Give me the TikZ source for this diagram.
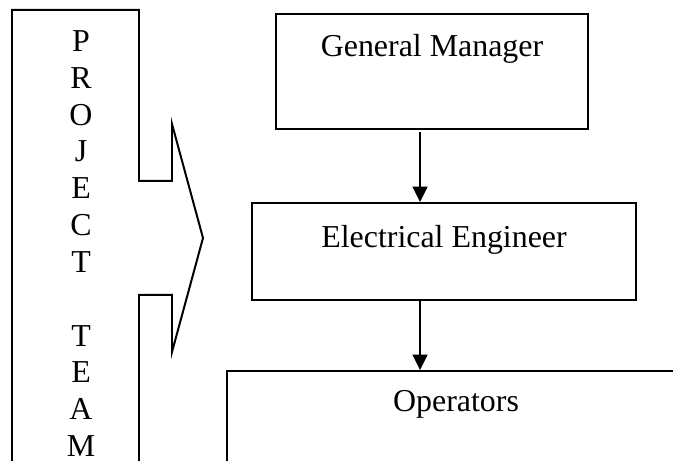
\documentclass[tikz,border=0pt]{standalone}
\usepackage{fontspec}
\setmainfont{Liberation Serif}
\usetikzlibrary{arrows.meta}
\begin{document}
\begin{tikzpicture}[x=0.376pt,y=-0.376pt,line width=0.75pt,
    font=\fontsize{12}{13.85}\selectfont]
        \useasboundingbox (0,0) rectangle (673,461);
        % project team arrow
        \draw (12,480) -- (12,10) -- (139,10) -- (139,181) -- (172,181) -- (172,124)
          -- (203,238) -- (172,352) -- (172,295) -- (139,295) -- (139,480);
        \node[align=center,inner sep=0pt,anchor=north] (team) at (81,29.5)
          {P\\R\\O\\J\\E\\C\\T\\\mbox{}\\T\\E\\A\\M};
        \begin{scope}[every node/.style={draw,inner ysep=0pt,anchor=north}]
          \node[minimum width=117.3pt,text height=16pt,text depth=27.3pt]   (gm) at (432,13)  {General Manager};
          \node[minimum width=144.4pt,text height=16.7pt,text depth=19.7pt] (ee) at (444,202) {Electrical Engineer};
          \node[minimum width=172.2pt,text height=15.2pt,text depth=40pt]   (op) at (456,370) {Operators};
        \end{scope}
        \begin{scope}[every path/.style={-{Triangle[width=5.6pt,length=5.8pt]}}]
          \draw ([xshift=-4.5pt,yshift=-0.8pt]gm.south) -- ([xshift=-4.5pt]gm.south |- ee.north);
          \draw ([xshift=-9pt]ee.south) -- ([xshift=-9pt]ee.south |- op.north);
        \end{scope}
      \end{tikzpicture}
\end{document}
